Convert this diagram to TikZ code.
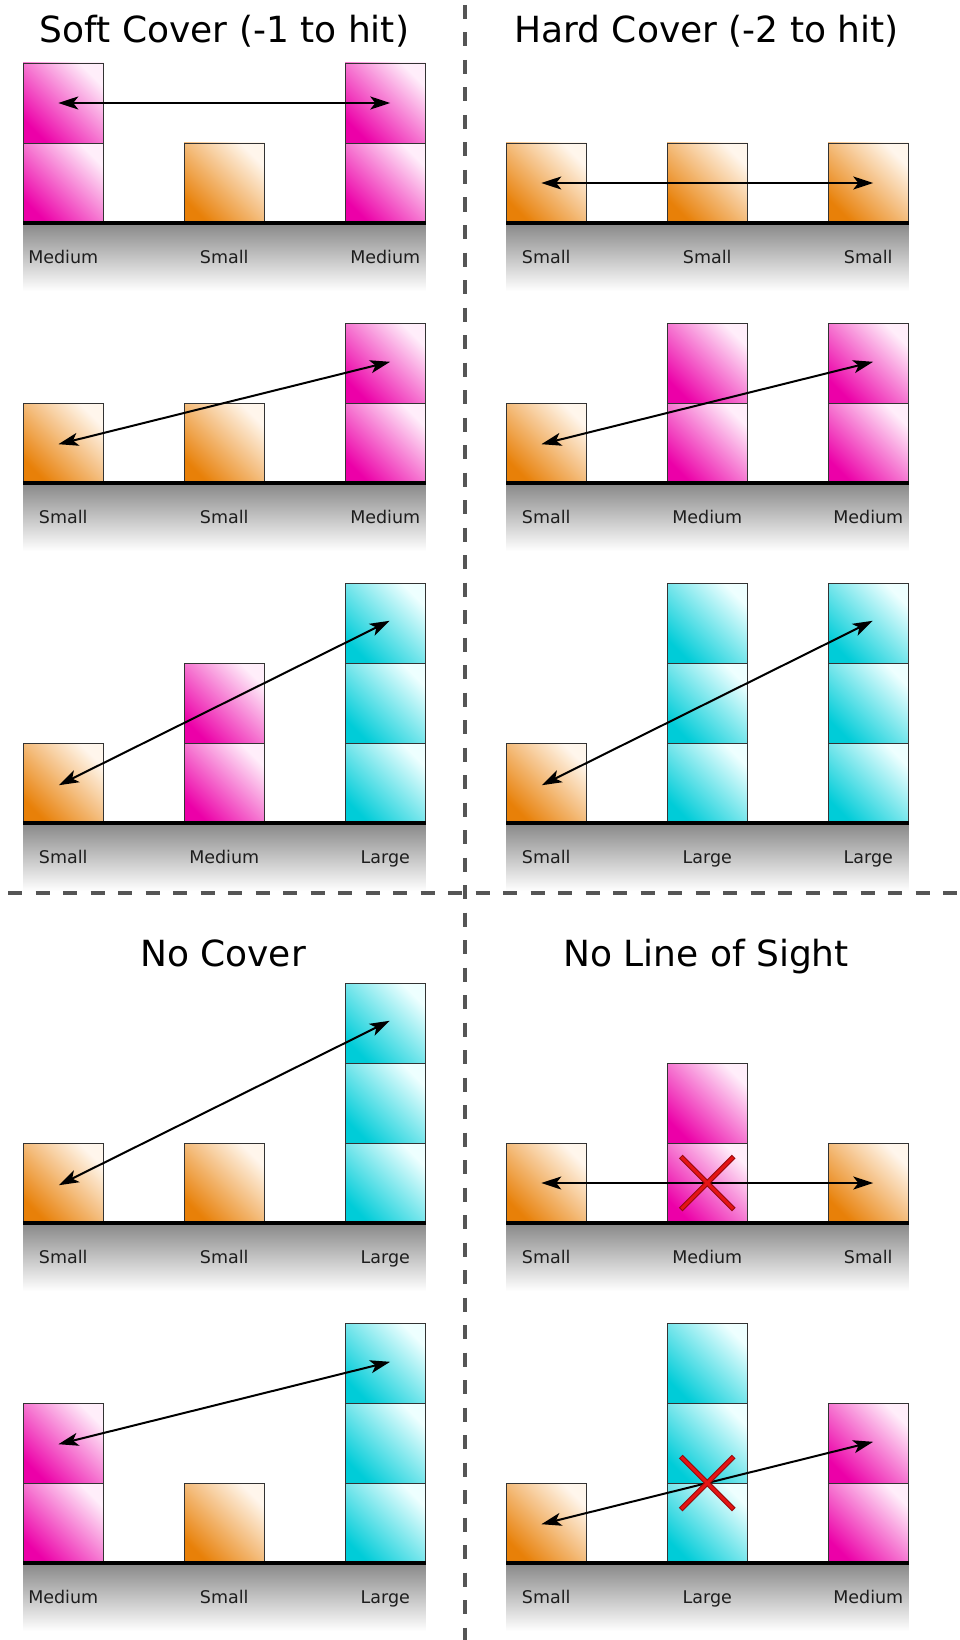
\documentclass[tikz,border=0pt]{standalone}
\usepackage{fontspec}
\setmainfont{DejaVu Sans}
\usetikzlibrary{arrows.meta,calc}
\definecolor{OrD}{RGB}{232,128,8}
\definecolor{OrL}{RGB}{255,246,236}
\definecolor{MaD}{RGB}{236,0,168}
\definecolor{MaL}{RGB}{255,238,250}
\definecolor{CyD}{RGB}{0,204,216}
\definecolor{CyL}{RGB}{238,255,255}
\definecolor{DivC}{RGB}{85,85,85}
\definecolor{ShadeC}{RGB}{136,136,136}
\definecolor{XRed}{RGB}{228,20,20}
\definecolor{XDark}{RGB}{150,10,10}
\definecolor{LblC}{RGB}{30,30,30}
\newcommand\stk[5]{\foreach \k in {1,...,#4}{\node[cube,#5] (#1-\k) at ({#2+40.25},{#3-80*\k+40}) {};}}
\newcommand\grshade[2]{\fill[top color=ShadeC,bottom color=white] (#1,#2) rectangle ({#1+402.5},{#2+68});}
\newcommand\grline[2]{\draw[ground] (#1,#2) -- ({#1+402.5},#2);}
\newcommand\lbl[4]{\node[lbltxt] (#1) at ({#2+40.25},{#3+40}) {#4};}
\begin{document}
\begin{tikzpicture}[x=1pt,y=-1pt,
  cube/.style={draw=black!80,line width=0.9pt,minimum width=80.5pt,minimum height=80pt,inner sep=0pt,outer sep=0pt},
  org/.style={top color=OrL,bottom color=OrD,shading angle=-45},
  mag/.style={top color=MaL,bottom color=MaD,shading angle=-45},
  cya/.style={top color=CyL,bottom color=CyD,shading angle=-45},
  ground/.style={line width=4pt,black},
  lbltxt/.style={anchor=base,text=LblC,font=\fontsize{17.5}{20}\selectfont,inner sep=0pt},
  ttl/.style={anchor=base,font=\fontsize{36}{40}\selectfont,inner sep=0pt},
  arr/.style={line width=2pt,{Stealth[length=20pt,width=13pt,inset=5pt]}-{Stealth[length=20pt,width=13pt,inset=5pt]},shorten <=-5pt,shorten >=-5pt},
  divider/.style={DivC,line width=4.5pt,dash pattern=on 14pt off 13.5pt},
  xline/.style={line width=5pt,XDark},
  xfill/.style={line width=3pt,XRed,shorten <=1pt,shorten >=1pt}]
\useasboundingbox (0,0) rectangle (960,1640);
\fill[white] (0,0) rectangle (960,1640);
% titles
\node[ttl] (t1) at (224.5,43) {Soft Cover (-1 to hit)};
\node[ttl] (t2) at (706.5,43) {Hard Cover (-2 to hit)};
\node[ttl] (t3) at (223,966) {No Cover};
\node[ttl] (t4) at (706,966) {No Line of Sight};
% ground shadows
\grshade{23}{223}\grshade{23}{483}\grshade{23}{823}\grshade{23}{1223}\grshade{23}{1563}
\grshade{506}{223}\grshade{506}{483}\grshade{506}{823}\grshade{506}{1223}\grshade{506}{1563}
% dividers
\draw[divider] (465,5) -- (465,1640);
\draw[divider] (8,893) -- (960,893);
% ---- Soft cover
\stk{a1L}{23}{223}{2}{mag}\stk{a1M}{184}{223}{1}{org}\stk{a1R}{345}{223}{2}{mag}
\stk{a2L}{23}{483}{1}{org}\stk{a2M}{184}{483}{1}{org}\stk{a2R}{345}{483}{2}{mag}
\stk{a3L}{23}{823}{1}{org}\stk{a3M}{184}{823}{2}{mag}\stk{a3R}{345}{823}{3}{cya}
% ---- No cover
\stk{a4L}{23}{1223}{1}{org}\stk{a4M}{184}{1223}{1}{org}\stk{a4R}{345}{1223}{3}{cya}
\stk{a5L}{23}{1563}{2}{mag}\stk{a5M}{184}{1563}{1}{org}\stk{a5R}{345}{1563}{3}{cya}
% ---- Hard cover
\stk{b1L}{506}{223}{1}{org}\stk{b1M}{667}{223}{1}{org}\stk{b1R}{828}{223}{1}{org}
\stk{b2L}{506}{483}{1}{org}\stk{b2M}{667}{483}{2}{mag}\stk{b2R}{828}{483}{2}{mag}
\stk{b3L}{506}{823}{1}{org}\stk{b3M}{667}{823}{3}{cya}\stk{b3R}{828}{823}{3}{cya}
% ---- No line of sight
\stk{b4L}{506}{1223}{1}{org}\stk{b4M}{667}{1223}{2}{mag}\stk{b4R}{828}{1223}{1}{org}
\stk{b5L}{506}{1563}{1}{org}\stk{b5M}{667}{1563}{3}{cya}\stk{b5R}{828}{1563}{2}{mag}
% ground lines
\grline{23}{223}\grline{23}{483}\grline{23}{823}\grline{23}{1223}\grline{23}{1563}
\grline{506}{223}\grline{506}{483}\grline{506}{823}\grline{506}{1223}\grline{506}{1563}
% labels
\lbl{la1L}{23}{223}{Medium}\lbl{la1M}{184}{223}{Small}\lbl{la1R}{345}{223}{Medium}
\lbl{la2L}{23}{483}{Small}\lbl{la2M}{184}{483}{Small}\lbl{la2R}{345}{483}{Medium}
\lbl{la3L}{23}{823}{Small}\lbl{la3M}{184}{823}{Medium}\lbl{la3R}{345}{823}{Large}
\lbl{la4L}{23}{1223}{Small}\lbl{la4M}{184}{1223}{Small}\lbl{la4R}{345}{1223}{Large}
\lbl{la5L}{23}{1563}{Medium}\lbl{la5M}{184}{1563}{Small}\lbl{la5R}{345}{1563}{Large}
\lbl{lb1L}{506}{223}{Small}\lbl{lb1M}{667}{223}{Small}\lbl{lb1R}{828}{223}{Small}
\lbl{lb2L}{506}{483}{Small}\lbl{lb2M}{667}{483}{Medium}\lbl{lb2R}{828}{483}{Medium}
\lbl{lb3L}{506}{823}{Small}\lbl{lb3M}{667}{823}{Large}\lbl{lb3R}{828}{823}{Large}
\lbl{lb4L}{506}{1223}{Small}\lbl{lb4M}{667}{1223}{Medium}\lbl{lb4R}{828}{1223}{Small}
\lbl{lb5L}{506}{1563}{Small}\lbl{lb5M}{667}{1563}{Large}\lbl{lb5R}{828}{1563}{Medium}
% arrows
\draw[arr] (a1L-2.center) -- (a1R-2.center);
\draw[arr] (a2L-1.center) -- (a2R-2.center);
\draw[arr] (a3L-1.center) -- (a3R-3.center);
\draw[arr] (a4L-1.center) -- (a4R-3.center);
\draw[arr] (a5L-2.center) -- (a5R-3.center);
\draw[arr] (b1L-1.center) -- (b1R-1.center);
\draw[arr] (b2L-1.center) -- (b2R-2.center);
\draw[arr] (b3L-1.center) -- (b3R-3.center);
\draw[arr] (b4L-1.center) -- (b4R-1.center);
\draw[arr] (b5L-1.center) -- (b5R-2.center);
% crosses
\coordinate (x4) at ($(b4L-1.center)!0.5!(b4R-1.center)$);
\coordinate (x5) at ($(b5L-1.center)!0.5!(b5R-2.center)$);
\foreach \c in {x4,x5}{
  \draw[xline] ($(\c)+(-26.5,-26.5)$) -- ($(\c)+(26.5,26.5)$);
  \draw[xline] ($(\c)+(-26.5,26.5)$) -- ($(\c)+(26.5,-26.5)$);
  \draw[xfill] ($(\c)+(-26.5,-26.5)$) -- ($(\c)+(26.5,26.5)$);
  \draw[xfill] ($(\c)+(-26.5,26.5)$) -- ($(\c)+(26.5,-26.5)$);
}
\end{tikzpicture}
\end{document}
